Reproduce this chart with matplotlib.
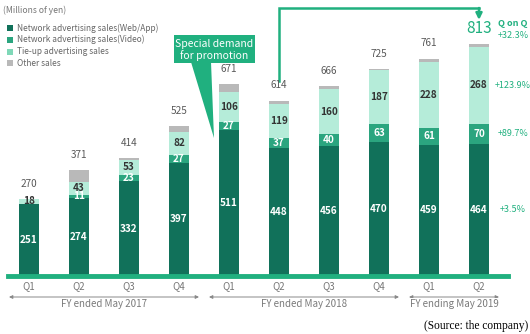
import matplotlib

matplotlib.use("Agg")
import matplotlib.pyplot as plt
from matplotlib.patches import Rectangle, Polygon
import numpy as np

plt.rcParams["font.family"] = ["Noto Sans CJK JP", "DejaVu Sans"]

# Quarterly sales, millions of yen
QUARTERS = ["Q1", "Q2", "Q3", "Q4", "Q1", "Q2", "Q3", "Q4", "Q1", "Q2"]
WEB_APP = [251, 274, 332, 397, 511, 448, 456, 470, 459, 464]
VIDEO = [0, 11, 23, 27, 27, 37, 40, 63, 61, 70]
TIE_UP = [18, 43, 53, 82, 106, 119, 160, 187, 228, 268]
OTHER = [1, 43, 6, 19, 27, 10, 10, 5, 13, 11]
TOTALS = [270, 371, 414, 525, 671, 614, 666, 725, 761, 813]

FY_LABELS = ["FY ended May 2017", "FY ended May 2018", "FY ending May 2019"]
FY_SPANS = [(0, 3), (4, 7), (8, 9)]

QOQ_LABELS = ["+3.5%", "+89.7%", "+123.9%"]

SERIES_NAMES = ["Network advertising sales(Web/App)", "Network advertising sales(Video)",
                "Tie-up advertising sales", "Other sales"]
C_WEB = "#11715a"
C_VIDEO = "#2ba57f"
C_TIE = "#b5ecd9"
C_OTHER = "#b9b9b9"
C_ACCENT = "#20b07f"
C_TEXT = "#595959"

W, H = 530, 334
fig = plt.figure(figsize=(W / 100, H / 100), dpi=100)

# axes placed in pixel terms: baseline at y=276px, bars 50px apart
left_px, right_px, base_px, top_px = 8, 508, 276, 2
ax = fig.add_axes([left_px / W, (H - base_px) / H, (right_px - left_px) / W, (base_px - top_px) / H])
YMAX = (base_px - top_px) / 0.2855
ax.set_xlim(-0.42, 9.58)
ax.set_ylim(0, YMAX)
ax.axis("off")


def fig_xy(px, py):
    return px / W, 1 - py / H


x = np.arange(len(QUARTERS))
bw = 0.4
web = np.array(WEB_APP)
vid = np.array(VIDEO)
tie = np.array(TIE_UP)
oth = np.array(OTHER)

ax.bar(x, web, bw, color=C_WEB, linewidth=0)
ax.bar(x, vid, bw, bottom=web, color=C_VIDEO, linewidth=0)
ax.bar(x, tie, bw, bottom=web + vid, color=C_TIE, linewidth=0)
ax.bar(x, oth, bw, bottom=web + vid + tie, color=C_OTHER, linewidth=0)

# baseline
ax.axhline(0, color=C_ACCENT, linewidth=3.5, xmin=0, xmax=1, clip_on=False)

lab = dict(ha="center", va="center", fontsize=7.2, fontweight="bold")
for i in x:
    ax.text(i, web[i] / 2, str(web[i]), color="white", **lab)
    if vid[i]:
        ax.text(i, web[i] + vid[i] / 2, str(vid[i]), color="white", **lab)
    ax.text(i, web[i] + vid[i] + tie[i] / 2 + (3 if tie[i] < 30 else 0), str(tie[i]),
            color="#333333", **lab)
    top = web[i] + vid[i] + tie[i] + oth[i]
    if i == len(x) - 1:
        ax.annotate(str(TOTALS[i]), (i, top), xytext=(0, 11), textcoords="offset points",
                    ha="center", va="center", fontsize=11, color=C_ACCENT)
    else:
        ax.annotate(str(TOTALS[i]), (i, top), xytext=(0, 11), textcoords="offset points",
                    ha="center", va="center", fontsize=7.2, color=C_TEXT)

# quarter ticks
for i, q in enumerate(QUARTERS):
    ax.text(i, -10 / 0.2855, q, ha="center", va="center", fontsize=7, color="#777777")

# fiscal-year spans with double arrows
for name, (a, b) in zip(FY_LABELS, FY_SPANS):
    y = -21 / 0.2855
    ax.annotate("", xy=(a - 0.4, y), xytext=(b + 0.4, y),
                arrowprops=dict(arrowstyle="<|-|>", color="#888888", lw=0.7,
                                mutation_scale=5, shrinkA=0, shrinkB=0),
                annotation_clip=False)
    ax.text((a + b) / 2, -28 / 0.2855, name, ha="center", va="center", fontsize=7,
            color="#7a7a7a", bbox=dict(facecolor="white", edgecolor="none", pad=1))

# bracket arrow from Q2 FY18 to Q2 FY19
y_top = 268 / 0.2855
y_start = TOTALS[5] + 20 / 0.2855
y_end = TOTALS[9] + 24 / 0.2855
ax.plot([5, 5, 9], [y_start, y_top, y_top], color=C_ACCENT, lw=1.8,
        solid_joinstyle="miter", clip_on=False)
ax.annotate("", xy=(9, y_end), xytext=(9, y_top),
            arrowprops=dict(arrowstyle="-|>", color=C_ACCENT, lw=1.8,
                            mutation_scale=9, shrinkA=0, shrinkB=0),
            annotation_clip=False)

# quarter-on-quarter growth column
qx, _ = fig_xy(513, 0)
fig.text(qx, fig_xy(0, 24)[1], "Q on Q", ha="center", va="center", fontsize=6.5,
         fontweight="bold", color=C_ACCENT)
fig.text(qx, fig_xy(0, 35)[1], "+32.3%", ha="center", va="center", fontsize=6.5, color=C_ACCENT)
seg_mid = [web[9] / 2, web[9] + vid[9] / 2, web[9] + vid[9] + tie[9] / 2]
for txt, ym in zip(QOQ_LABELS, seg_mid):
    ax.text(9.68, ym, txt, ha="center", va="center", fontsize=6.5, color=C_ACCENT,
            clip_on=False)

# callout
bx0, by0 = fig_xy(174, 63)
bx1, by1 = fig_xy(255, 35)
fig.patches.append(Rectangle((bx0, by0), bx1 - bx0, by1 - by0, transform=fig.transFigure,
                             facecolor=C_ACCENT, edgecolor="none"))
tri = [fig_xy(191, 62), fig_xy(211, 62), fig_xy(214, 138)]
fig.patches.append(Polygon(tri, closed=True, transform=fig.transFigure,
                           facecolor=C_ACCENT, edgecolor="none"))
fig.text((bx0 + bx1) / 2, fig_xy(0, 44)[1], "Special demand", ha="center", va="center",
         fontsize=7.5, color="white")
fig.text((bx0 + bx1) / 2, fig_xy(0, 56)[1], "for promotion", ha="center", va="center",
         fontsize=7.5, color="white")

# legend
fig.text(*fig_xy(3, 10), "(Millions of yen)", ha="left", va="center", fontsize=6.2, color="#777777")
for k, (name, c) in enumerate(zip(SERIES_NAMES, [C_WEB, C_VIDEO, "#7fd8b8", C_OTHER])):
    py = 28 + 11.8 * k
    sx, sy = fig_xy(7, py + 3)
    fig.patches.append(Rectangle((sx, sy), 6 / W, 6 / H, transform=fig.transFigure,
                                 facecolor=c, edgecolor="none"))
    fig.text(*fig_xy(17, py), name, ha="left", va="center", fontsize=6.0, color="#666666")

fig.text(*fig_xy(528, 326), "(Source: the company)", ha="right", va="center", fontsize=8.3,
         family="Liberation Serif", color="black")

fig.savefig("out.png", dpi=100)
